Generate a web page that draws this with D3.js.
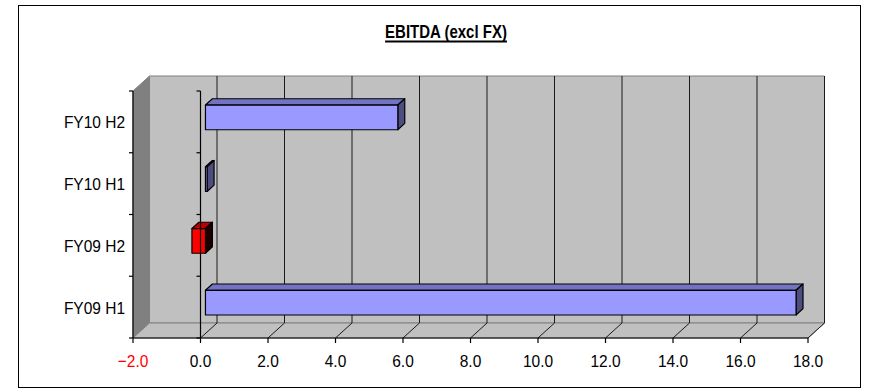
<!DOCTYPE html>
<html>
<head>
<meta charset="utf-8">
<script src="https://cdn.jsdelivr.net/npm/d3@7/dist/d3.min.js"></script>
<style>
  html, body { margin: 0; padding: 0; background: #fff; }
  svg { display: block; font-family: "Liberation Sans", Arial, sans-serif; }
</style>
</head>
<body>
<svg id="chart" width="869" height="392"></svg>
<script>
// EBITDA (excl FX) by half-year
const categories = ["FY09 H1", "FY09 H2", "FY10 H1", "FY10 H2"];
const values = [17.5, -0.4, 0.05, 5.7];
const tickValues = [-2, 0, 2, 4, 6, 8, 10, 12, 14, 16, 18];
const titleText = "EBITDA (excl FX)";

const svg = d3.select("#chart");

// outer chart frame
svg.append("rect")
  .attr("x", 18.5).attr("y", 5.5)
  .attr("width", 842).attr("height", 382)
  .attr("fill", "#fff").attr("stroke", "#000").attr("stroke-width", 1);

// front plane of the 3D box
const x = d3.scaleLinear().domain([-2, 18]).range([133, 808]);
const y = d3.scaleBand().domain(categories.slice().reverse()).range([91, 338]).padding(0);

// depth projection
const DX = 16.5, DY = 15;
const P = (v, py, z) => [x(v) + z * DX, py - z * DY];
const poly = pts => pts.map(p => p.join(",")).join(" ");

const yTop = 91, yBot = 338;
const vMin = -2, vMax = 18;

// back wall
svg.append("polygon")
  .attr("points", poly([P(vMin, yTop, 1), P(vMax, yTop, 1), P(vMax, yBot, 1), P(vMin, yBot, 1)]))
  .attr("fill", "#c0c0c0").attr("stroke", "#808080").attr("stroke-width", 1);

// left side wall
svg.append("polygon")
  .attr("points", poly([P(vMin, yTop, 0), P(vMin, yTop, 1), P(vMin, yBot, 1), P(vMin, yBot, 0)]))
  .attr("fill", "#808080").attr("stroke", "#808080").attr("stroke-width", 1);

// floor
svg.append("polygon")
  .attr("points", poly([P(vMin, yBot, 0), P(vMin, yBot, 1), P(vMax, yBot, 1), P(vMax, yBot, 0)]))
  .attr("fill", "#c0c0c0").attr("stroke", "#808080").attr("stroke-width", 1);

// gridlines: across the floor, then up the back wall
const grid = svg.append("g");
tickValues.filter(v => v > vMin).forEach(v => {
  const a = P(v, yBot, 0), b = P(v, yBot, 1), c = P(v, yTop, 1);
  grid.append("polyline")
    .attr("points", poly([a, b, c]))
    .attr("fill", "none").attr("stroke", "#1a1a1a").attr("stroke-width", 1);
});

// bars
const z0 = 0.3, z1 = 0.72;
const barH = y.bandwidth() * 0.4;
const bars = svg.append("g");
categories.forEach((cat, i) => {
  const v = values[i];
  const lo = Math.min(0, v), hi = Math.max(0, v);
  const cy = y(cat) + y.bandwidth() / 2;
  const t = cy - barH / 2, b = cy + barH / 2;
  const neg = v < 0;
  const cFront = neg ? "#ff0000" : "#9999ff";
  const cTop = neg ? "#c00000" : "#7373c4";
  const cSide = neg ? "#1a0000" : "#4d4d80";
  // top face
  bars.append("polygon")
    .attr("points", poly([P(lo, t, z0), P(lo, t, z1), P(hi, t, z1), P(hi, t, z0)]))
    .attr("fill", cTop).attr("stroke", "#000").attr("stroke-width", 1.2).attr("stroke-linejoin", "round");
  // end face
  bars.append("polygon")
    .attr("points", poly([P(hi, t, z0), P(hi, t, z1), P(hi, b, z1), P(hi, b, z0)]))
    .attr("fill", cSide).attr("stroke", "#000").attr("stroke-width", 1.2).attr("stroke-linejoin", "round");
  // front face
  bars.append("polygon")
    .attr("points", poly([P(lo, t, z0), P(hi, t, z0), P(hi, b, z0), P(lo, b, z0)]))
    .attr("fill", cFront).attr("stroke", "#000").attr("stroke-width", 1.2).attr("stroke-linejoin", "round");
});

// axes on the front plane
const axes = svg.append("g").attr("stroke", "#000").attr("stroke-width", 1.2).attr("fill", "none");
// value axis along the front floor edge
axes.append("line").attr("x1", x(vMin)).attr("x2", x(vMax)).attr("y1", yBot).attr("y2", yBot);
tickValues.forEach(v => {
  axes.append("line").attr("x1", x(v)).attr("x2", x(v)).attr("y1", yBot).attr("y2", yBot + 5);
});
// category axes: left wall edge and the zero line
const catBounds = categories.map(c => y(c)).concat([yBot]);
[vMin, 0].forEach(v => {
  axes.append("line").attr("x1", x(v)).attr("x2", x(v)).attr("y1", yTop).attr("y2", yBot);
  catBounds.forEach(py => {
    axes.append("line").attr("x1", x(v) - 4).attr("x2", x(v)).attr("y1", py).attr("y2", py);
  });
});

// value tick labels
const fmt = d3.format(".1f");
svg.append("g").selectAll("text").data(tickValues).join("text")
  .attr("transform", d => `translate(${x(d)},367) scale(1,1.12)`)
  .attr("text-anchor", "middle")
  .attr("font-size", 15.5)
  .attr("fill", d => d < 0 ? "#ff0000" : "#000")
  .text(d => fmt(d));

// category labels
svg.append("g").selectAll("text").data(categories).join("text")
  .attr("transform", d => `translate(125,${y(d) + y.bandwidth() / 2 + 6.5}) scale(1,1.12)`)
  .attr("text-anchor", "end")
  .attr("font-size", 15.5)
  .attr("fill", "#000")
  .text(d => d);

// title, underlined
const title = svg.append("text")
  .attr("transform", "translate(446,38) scale(1,1.18)")
  .attr("text-anchor", "middle")
  .attr("font-size", 15)
  .attr("font-weight", "bold")
  .attr("fill", "#000")
  .text(titleText);
const tw = title.node().getComputedTextLength();
svg.append("line")
  .attr("x1", 446 - tw / 2).attr("x2", 446 + tw / 2)
  .attr("y1", 41.5).attr("y2", 41.5)
  .attr("stroke", "#000").attr("stroke-width", 2);
</script>
</body>
</html>
